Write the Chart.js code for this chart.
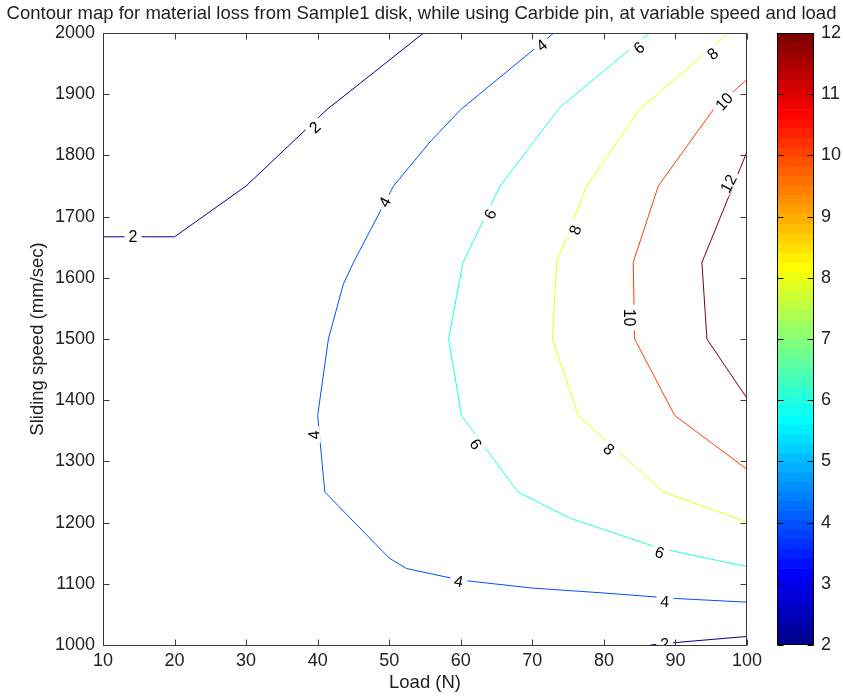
<!DOCTYPE html>
<html><head><meta charset="utf-8">
<script src="https://cdn.jsdelivr.net/npm/chart.js@4.4.1/dist/chart.umd.min.js"></script>
<style>
html,body{margin:0;padding:0;background:#fff;}
#wrap{position:relative;width:843px;height:699px;overflow:hidden;}
#main{position:absolute;left:0;top:0;}
#cbar{position:absolute;left:760px;top:0;}
</style></head><body>
<div id="wrap"><canvas id="main" width="843" height="699"></canvas><canvas id="cbar" width="83" height="699"></canvas></div>
<script>
// ---------- data ----------
const titleText = 'Contour map for material loss from Sample1 disk, while using Carbide pin, at variable speed and load';
const xTitle = 'Load (N)';
const yTitle = 'Sliding speed (mm/sec)';
const loadRange = [10, 100];
const speedRange = [1000, 2000];
const colorRange = [2, 12];

const c2UpperLoad  = [10, 20, 30, 41.3, 54.8];
const c2UpperSpeed = [1667, 1667, 1750, 1875, 2000];
const c2LowerLoad  = [86.5, 90, 100];
const c2LowerSpeed = [1000, 1004, 1014];
const c4Load  = [73, 60, 55.7, 50.6, 45, 43.6, 41.5, 40, 41, 50, 52.4, 60, 70, 80, 90, 100];
const c4Speed = [2000, 1875, 1822, 1750, 1625, 1590, 1500, 1375, 1250, 1142, 1125, 1106, 1093, 1085, 1076, 1070];
const c6Load  = [86.4, 74, 71.8, 65.5, 60.3, 58.3, 60.1, 68, 75.3, 87.8, 100];
const c6Speed = [2000, 1880, 1847, 1750, 1625, 1500, 1375, 1250, 1207, 1158, 1128];
const c8Load  = [97.4, 85, 77.6, 73.4, 72.8, 76.4, 88.3, 100];
const c8Speed = [2000, 1875, 1750, 1625, 1500, 1375, 1250, 1201];
const c10Load  = [100, 95.3, 87.6, 84.1, 84.3, 89.9, 100];
const c10Speed = [1924, 1875, 1750, 1625, 1500, 1375, 1287];
const c12Load  = [100, 93.7, 94.4, 100];
const c12Speed = [1806, 1625, 1500, 1403];

const contourLevels = [2, 2, 4, 6, 8, 10, 12];
const contourLoads  = [c2UpperLoad, c2LowerLoad, c4Load, c6Load, c8Load, c10Load, c12Load];
const contourSpeeds = [c2UpperSpeed, c2LowerSpeed, c4Speed, c6Speed, c8Speed, c10Speed, c12Speed];

// contour labels: text, load, speed, angle (deg)
const labelText  = ['2','2','4','4','4','4','4','6','6','6','6','8','8','8','10','10','12','2'];
const labelLoad  = [14.2, 39.6, 71.3, 49.4, 39.5, 59.7, 88.5, 84.9, 64.1, 62.1, 87.8, 95.2, 76.0, 80.7, 96.8, 83.6, 97.4, 88.5];
const labelSpeed = [1667, 1846, 1980, 1724, 1343, 1104, 1071, 1976, 1704, 1328, 1151, 1966, 1678, 1320, 1888, 1535, 1754, 1002];
const labelAngle = [0, -43, -38, -62, -95, 11, 3, -39, -65, 54, 18, -40, -70, 42, -48, 90, -62, -4];

// ---------- jet colormap (MATLAB jet(64)) ----------
function jet(m){
  const n = Math.ceil(m/4), u = [];
  for (let i=1;i<=n;i++) u.push(i/n);
  for (let i=0;i<n-1;i++) u.push(1);
  for (let i=n;i>=1;i--) u.push(i/n);
  const J = Array.from({length:m}, ()=>[0,0,0]);
  const off = Math.ceil(n/2) - (m%4===1?1:0);
  for (let k=1;k<=u.length;k++){
    const g = off + k, r = g + n, b = g - n;
    if (r<=m) J[r-1][0] = u[k-1];
    if (g<=m) J[g-1][1] = u[k-1];
    if (b>=1) J[b-1][2] = u[k-1];
  }
  return J.map(c => `rgb(${Math.round(c[0]*255)},${Math.round(c[1]*255)},${Math.round(c[2]*255)})`);
}
const JET = jet(64);
function levelColor(v){
  const t = (v - colorRange[0]) / (colorRange[1] - colorRange[0]);
  return JET[Math.max(0, Math.min(63, Math.floor(t*64)))];
}

const FONT = '"Liberation Sans", Arial, Helvetica, sans-serif';
Chart.defaults.font.family = FONT;
Chart.defaults.color = '#222';

const TICK = 6;
const AXIS_COLOR = '#3a3a3a';
const plainNum = v => String(v);

const framePlugin = {
  id: 'frame',
  afterDraw(chart){
    const {ctx, chartArea:a, scales:{x, y}} = chart;
    ctx.save();
    ctx.strokeStyle = AXIS_COLOR; ctx.lineWidth = 1;
    const L = a.left + 0.5, R = a.right - 0.5, T = a.top + 0.5, B = a.bottom + 0.5;
    ctx.beginPath();
    ctx.moveTo(L,T); ctx.lineTo(R,T); ctx.lineTo(R,B); ctx.lineTo(L,B); ctx.closePath();
    x.ticks.forEach(t => {
      const px = Math.round(x.getPixelForValue(t.value)) + 0.5;
      ctx.moveTo(px, B); ctx.lineTo(px, B - TICK);
      ctx.moveTo(px, T); ctx.lineTo(px, T + TICK);
    });
    y.ticks.forEach(t => {
      const py = Math.round(y.getPixelForValue(t.value)) + 0.5;
      ctx.moveTo(L, py); ctx.lineTo(L + TICK, py);
      ctx.moveTo(R, py); ctx.lineTo(R - TICK, py);
    });
    ctx.stroke();
    ctx.restore();
  }
};

const labelPlugin = {
  id: 'clabels',
  afterDatasetsDraw(chart){
    const {ctx, chartArea:a, scales:{x, y}} = chart;
    ctx.save();
    ctx.beginPath(); ctx.rect(a.left, a.top, a.right-a.left, a.bottom-a.top); ctx.clip();
    ctx.font = '16px ' + FONT;
    ctx.textAlign = 'center'; ctx.textBaseline = 'middle';
    labelText.forEach((txt, i) => {
      const px = x.getPixelForValue(labelLoad[i]);
      const py = y.getPixelForValue(labelSpeed[i]);
      ctx.save();
      ctx.translate(px, py);
      ctx.rotate(labelAngle[i] * Math.PI / 180);
      const w = ctx.measureText(txt).width;
      ctx.fillStyle = '#fff';
      ctx.fillRect(-w/2 - 4, -6, w + 8, 12);
      ctx.fillStyle = '#000';
      ctx.fillText(txt, 0, 1);
      ctx.restore();
    });
    ctx.restore();
  }
};

const datasets = contourLevels.map((lv, i) => ({
  label: 'level ' + lv,
  data: contourLoads[i].map((l, j) => ({x: l, y: contourSpeeds[i][j]})),
  showLine: true,
  borderColor: levelColor(lv),
  borderWidth: 1,
  pointRadius: 0,
  tension: 0,
  fill: false
}));

new Chart(document.getElementById('main'), {
  type: 'scatter',
  data: { datasets },
  options: {
    responsive: false, animation: false, devicePixelRatio: 1,
    layout: { padding: 0 },
    plugins: {
      legend: { display: false },
      tooltip: { enabled: false },
      title: {
        display: true, text: titleText, color: '#222',
        font: { size: 18.5, weight: 'normal', family: FONT, lineHeight: 1.2 },
        padding: { top: 3, bottom: 7.8 }
      }
    },
    scales: {
      x: {
        type: 'linear', position: 'bottom', min: loadRange[0], max: loadRange[1],
        ticks: { stepSize: 10, padding: 5, color: '#222', font: { size: 18 }, callback: plainNum },
        grid: { display: false, drawTicks: false }, border: { display: false },
        title: { display: true, text: xTitle, color: '#222', font: { size: 18.5, lineHeight: 1.2 }, padding: { top: 0, bottom: 4.8 } },
        afterFit(s){ s.height = 54; }
      },
      y: {
        type: 'linear', position: 'left', min: speedRange[0], max: speedRange[1],
        ticks: { stepSize: 100, padding: 8, color: '#222', font: { size: 18 }, callback: plainNum },
        grid: { display: false, drawTicks: false }, border: { display: false },
        title: { display: true, text: yTitle, color: '#222', font: { size: 18.5, lineHeight: 1.2 }, padding: { top: 27, bottom: 0 } },
        afterFit(s){ s.width = 103; }
      },
      yR: {
        type: 'linear', position: 'right', min: speedRange[0], max: speedRange[1], display: true,
        ticks: { display: false }, grid: { display: false, drawTicks: false }, border: { display: false },
        afterFit(s){ s.width = 96; }
      }
    }
  },
  plugins: [labelPlugin, framePlugin]
});

// ---------- colorbar ----------
const nBands = 64;
const bandStep = (colorRange[1] - colorRange[0]) / nBands;
const cbDatasets = JET.map((c, i) => ({
  data: [[colorRange[0] + i*bandStep, colorRange[0] + (i+1)*bandStep]],
  backgroundColor: c, borderWidth: 0, grouped: false,
  barPercentage: 1, categoryPercentage: 1
}));

const cbFrame = {
  id: 'cbframe',
  afterDraw(chart){
    const {ctx, chartArea:a, scales:{y}} = chart;
    ctx.save();
    ctx.strokeStyle = '#000'; ctx.lineWidth = 1;
    const L = a.left + 0.5, R = a.right - 0.5, T = a.top + 0.5, B = a.bottom - 0.5;
    ctx.beginPath();
    ctx.rect(L, T, R - L, B - T);
    y.ticks.forEach(t => {
      const py = Math.round(y.getPixelForValue(t.value)) + 0.5;
      ctx.moveTo(L, py); ctx.lineTo(L + TICK, py);
      ctx.moveTo(R, py); ctx.lineTo(R - TICK, py);
    });
    ctx.stroke();
    ctx.restore();
  }
};

new Chart(document.getElementById('cbar'), {
  type: 'bar',
  data: { labels: ['colorbar'], datasets: cbDatasets },
  options: {
    responsive: false, animation: false, devicePixelRatio: 1,
    layout: { padding: { left: 17, top: 33, bottom: 54, right: 0 } },
    plugins: { legend: { display: false }, tooltip: { enabled: false }, title: { display: false } },
    scales: {
      x: { display: false },
      y: {
        position: 'right', min: colorRange[0], max: colorRange[1],
        ticks: { stepSize: 1, padding: 7, color: '#222', font: { size: 18 }, callback: plainNum },
        grid: { display: false, drawTicks: false }, border: { display: false },
        afterFit(s){ s.width = 29; }
      }
    }
  },
  plugins: [cbFrame]
});
</script>
</body></html>
